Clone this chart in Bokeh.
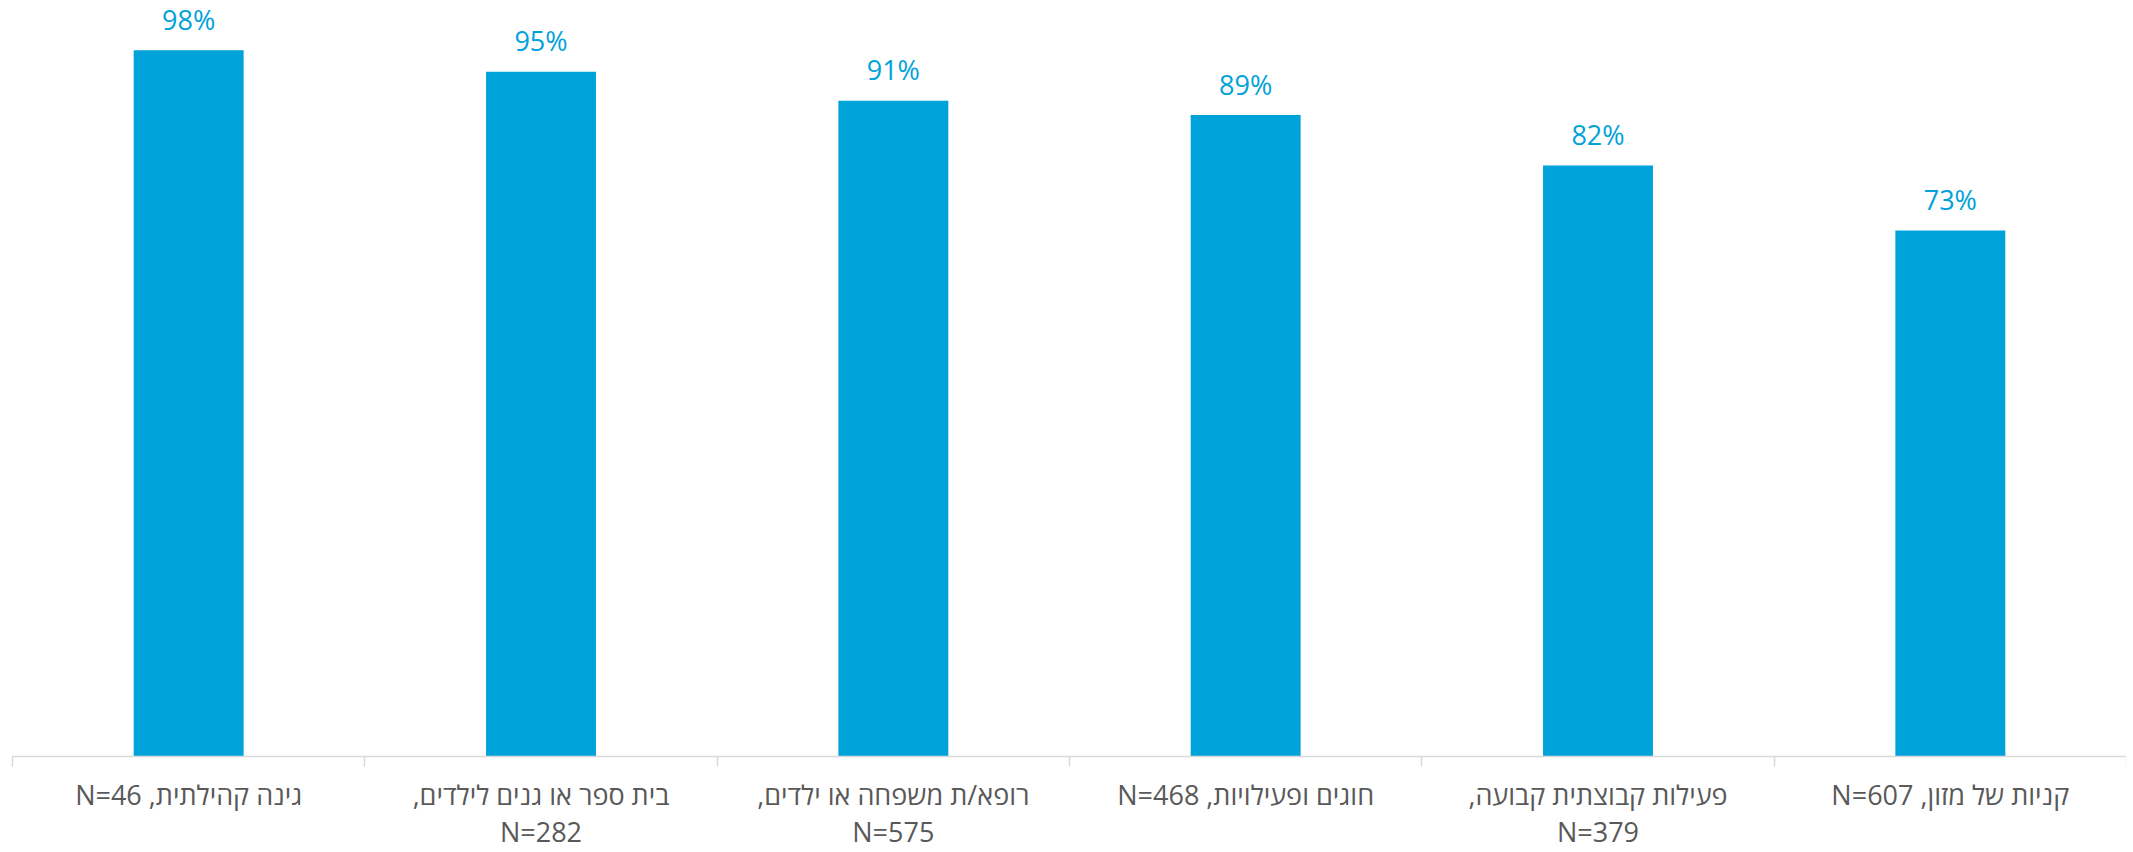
from bokeh.plotting import figure
from bokeh.models import ColumnDataSource, Range1d, LinearAxis, FixedTicker
from bokeh.core.properties import value
from bokeh.embed import file_html
from bokeh.resources import INLINE

RLE, PDF = "\u202B", "\u202C"

categories = [
    "גינה קהילתית, N=46",
    "בית ספר או גנים לילדים,\nN=282",
    "רופא/ת משפחה או ילדים,\nN=575",
    "חוגים ופעילויות, N=468",
    "פעילות קבוצתית קבועה,\nN=379",
    "קניות של מזון, N=607",
]
values = [98, 95, 91, 89, 82, 73]
value_labels = [f"{v}%" for v in values]

BLUE = "#00A2DA"
GRAY = "#595959"
AXIS = "#D9D9D9"

n = len(categories)
xs = [i + 0.5 for i in range(n)]

src = ColumnDataSource(dict(x=xs, top=values, lab=value_labels))

p = figure(width=2126, height=852, x_range=Range1d(0, n), y_range=Range1d(0, 104.9),
           output_backend="svg", toolbar_location=None,
           x_axis_location=None, y_axis_location=None,
           min_border_left=12, min_border_right=0, min_border_top=0, min_border_bottom=96)
p.outline_line_color = None
p.xgrid.visible = False
p.ygrid.visible = False

p.vbar(x="x", top="top", bottom=0, width=0.312, source=src, color=BLUE, line_color=None)
p.text(x="x", y="top", text="lab", source=src, text_align="center", text_baseline="middle",
       y_offset=-31, text_color=BLUE, text_font=value("Open Sans"), text_font_size="27px")

def rtl(s):
    return "\n".join(RLE + line + PDF for line in s.split("\n"))

ax = LinearAxis(ticker=FixedTicker(ticks=xs, minor_ticks=list(range(n + 1))))
ax.major_label_overrides = {x: rtl(c) for x, c in zip(xs, categories)}
ax.axis_line_color = AXIS
ax.axis_line_width = 1.5
ax.major_tick_line_color = None
ax.major_tick_out = 0
ax.major_tick_in = 0
ax.minor_tick_line_color = AXIS
ax.minor_tick_line_width = 1.5
ax.minor_tick_out = 10
ax.minor_tick_in = 0
ax.major_label_standoff = 9
ax.major_label_text_font = "Open Sans"
ax.major_label_text_font_size = "27px"
ax.major_label_text_line_height = 1.0
ax.major_label_text_color = GRAY
ax.major_label_text_font_style = "normal"
p.add_layout(ax, "below")

open("out.html", "w").write(file_html(p, INLINE))
